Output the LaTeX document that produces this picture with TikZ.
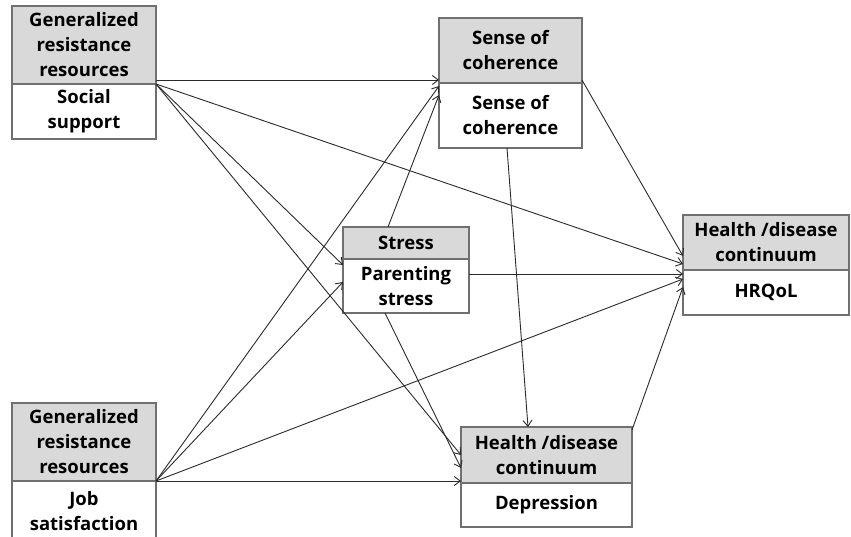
\documentclass[tikz,border=0pt]{standalone}
\usepackage{fontspec}
\setmainfont{Open Sans}
\usetikzlibrary{positioning,arrows.meta}
\definecolor{boxgray}{HTML}{707070}
\definecolor{hdrgray}{HTML}{D9D9D9}
\definecolor{linkgray}{HTML}{2A2A2A}
\begin{document}
\begin{tikzpicture}
[x=1pt, y=-1pt, font=\bfseries\fontsize{18.5}{25}\selectfont, >={Straight Barb[length=6pt, width=9pt]}]
\tikzstyle{hdr}=[rectangle, draw=boxgray, fill=hdrgray, line width=1.3pt, align=center, anchor=north west, inner sep=0pt, outer sep=0pt]
\tikzstyle{var}=[rectangle, draw=boxgray, fill=white, line width=1.3pt, align=center, inner sep=0pt, outer sep=0pt]
\tikzstyle{link}=[->, draw=linkgray, line width=0.9pt]
\useasboundingbox (0,0) rectangle (851,536);

\node[hdr, minimum width=144pt, minimum height=78pt]	(GRR1)	at (12,6)	{Generalized\\resistance\\resources};
\node[var, minimum width=144pt, minimum height=55pt]	(SS)	[below=0pt of GRR1]	{Social\\support};
\node[hdr, minimum width=143pt, minimum height=65pt]	(SOCh)	at (439,18)	{Sense of\\coherence};
\node[var, minimum width=143pt, minimum height=65pt]	(SOC)	[below=0pt of SOCh]	{Sense of\\coherence};
\node[hdr, minimum width=126pt, minimum height=32pt]	(STh)	at (343,227)	{Stress};
\node[var, minimum width=126pt, minimum height=54pt]	(PS)	[below=0pt of STh]	{Parenting\\stress};
\node[hdr, minimum width=166pt, minimum height=55pt]	(HDh1)	at (683,215)	{Health /disease\\continuum};
\node[var, minimum width=166pt, minimum height=45pt]	(HRQ)	[below=0pt of HDh1]	{HRQoL};
\node[hdr, minimum width=144pt, minimum height=78pt]	(GRR2)	at (12,403)	{Generalized\\resistance\\resources};
\node[var, minimum width=144pt, minimum height=60pt]	(JS)	[below=0pt of GRR2]	{Job\\satisfaction};
\node[hdr, minimum width=171pt, minimum height=56pt]	(HDh2)	at (461,427)	{Health /disease\\continuum};
\node[var, minimum width=171pt, minimum height=44pt]	(DEP)	[below=0pt of HDh2]	{Depression};

% social support
\draw [link] ([yshift=4pt]GRR1.south east) -- ([yshift=3pt]SOCh.south west);
\draw [link] (GRR1.south east) -- ([yshift=-6pt]PS.north west);
\draw [link] (GRR1.south east) -- ([yshift=6pt]HDh1.south west);
\draw [link] (GRR1.south east) -- ([yshift=28pt]HDh2.south west);

% job satisfaction
\draw [link] (GRR2.south east) -- ([yshift=-3pt]SOC.north west);
\draw [link] (GRR2.south east) -- ([yshift=-23pt]PS.north west);
\draw [link] (GRR2.south east) -- ([yshift=-9pt]HRQ.north west);
\draw [link] (GRR2.south east) -- ([yshift=2pt]HDh2.south west);

% parenting stress
\draw [link] ([xshift=45pt]STh.north west) -- ([yshift=-12pt]SOC.north west);
\draw [link] ([yshift=-15pt]PS.north east) -- ([yshift=-4pt]HRQ.north west);
\draw [link] ([xshift=42pt]PS.south west) -- ([yshift=15pt]HDh2.south west);

% sense of coherence, depression
\draw [link] ([yshift=3pt]SOCh.south east) -- ([yshift=14pt]HDh1.south west);
\draw [link] ([xshift=68pt]SOC.south west) -- ([xshift=67pt]HDh2.north west);
\draw [link] ([yshift=-3pt]HDh2.north east) -- ([yshift=-17pt]HRQ.north west);
\end{tikzpicture}
\end{document}
